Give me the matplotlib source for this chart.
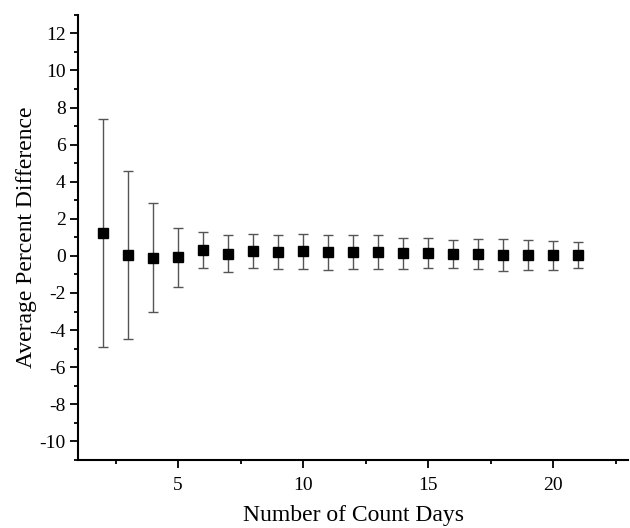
import matplotlib.pyplot as plt
from matplotlib.ticker import MultipleLocator

# average percent difference vs number of count days, with std-dev error bars
count_days = [2, 3, 4, 5, 6, 7, 8, 9, 10, 11, 12, 13, 14, 15, 16, 17, 18, 19, 20, 21]
avg_diff = [1.26, 0.04, -0.09, -0.07, 0.34, 0.12, 0.27, 0.22, 0.27, 0.20,
            0.20, 0.20, 0.14, 0.18, 0.12, 0.12, 0.05, 0.05, 0.05, 0.05]
err_lo = [6.16, 4.54, 2.95, 1.60, 0.99, 0.98, 0.93, 0.94, 0.99, 0.97,
          0.92, 0.92, 0.86, 0.84, 0.80, 0.84, 0.88, 0.81, 0.79, 0.73]
err_hi = [6.14, 4.54, 2.93, 1.60, 0.95, 0.98, 0.90, 0.89, 0.93, 0.95,
          0.95, 0.90, 0.81, 0.79, 0.76, 0.78, 0.85, 0.80, 0.76, 0.71]

plt.rcParams['font.family'] = ['Liberation Serif', 'DejaVu Serif']
plt.rcParams['axes.unicode_minus'] = False

fig = plt.figure(figsize=(6.3, 5.28), dpi=100)
ax = fig.add_axes([0.124, 0.129, 0.873, 0.843])

ax.errorbar(count_days, avg_diff, yerr=[err_lo, err_hi], fmt='s',
            color='black', markersize=6.5, ecolor='#555555', elinewidth=1.0,
            capsize=3.3, capthick=1.0)

ax.set_xlim(1, 23)
ax.set_ylim(-11, 13)
ax.xaxis.set_major_locator(MultipleLocator(5))
ax.xaxis.set_minor_locator(MultipleLocator(2.5))
ax.yaxis.set_major_locator(MultipleLocator(2))
ax.yaxis.set_minor_locator(MultipleLocator(1))

for side in ['top', 'right']:
    ax.spines[side].set_visible(False)
for side in ['left', 'bottom']:
    ax.spines[side].set_linewidth(1.5)

ax.tick_params(which='major', direction='out', length=5.5, width=1.3, labelsize=14)
ax.tick_params(which='minor', direction='out', length=3, width=1.3)
ax.tick_params(axis='x', pad=7)

ax.set_xlabel('Number of Count Days', fontsize=17, labelpad=8)
ax.set_ylabel('Average Percent Difference', fontsize=17, labelpad=2)

fig.savefig('out.png', dpi=100)
